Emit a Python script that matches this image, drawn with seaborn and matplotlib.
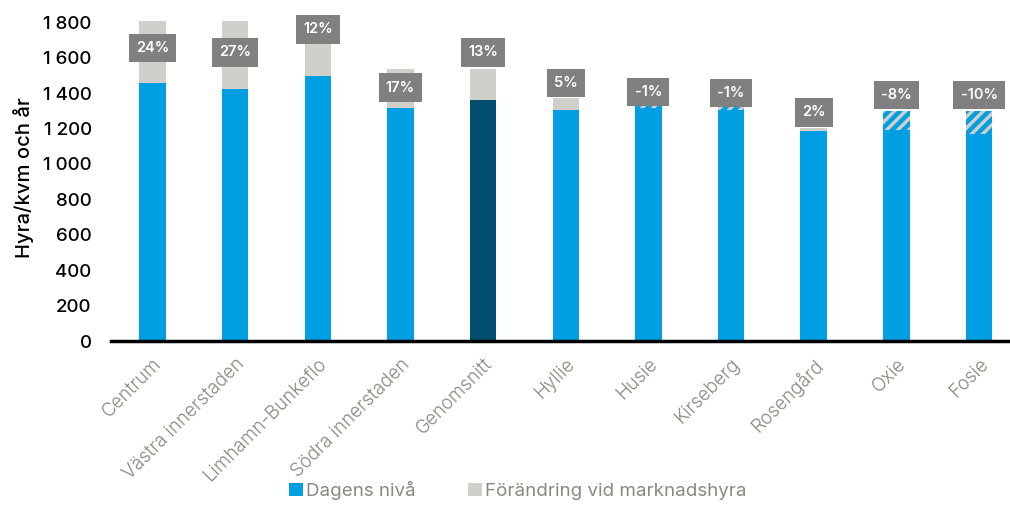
import numpy as np
import pandas as pd
import matplotlib
matplotlib.use("Agg")
import matplotlib.pyplot as plt
import seaborn as sns
from matplotlib.patches import Patch


# Data
# ----------------------------------
areas = ["Centrum", "Västra innerstaden", "Limhamn-Bunkeflo", "Södra innerstaden",
         "Genomsnitt", "Hyllie", "Husie", "Kirseberg", "Rosengård", "Oxie", "Fosie"]
current_rent = [1455, 1425, 1495, 1315, 1360, 1304, 1326, 1320, 1185, 1298, 1298]
market_rent = [1805, 1808, 1676, 1535, 1537, 1371, 1313, 1307, 1202, 1194, 1168]
change_labels = ["24%", "27%", "12%", "17%", "13%", "5%", "-1%", "-1%", "2%", "-8%", "-10%"]
y_ticks = [0, 200, 400, 600, 800, 1000, 1200, 1400, 1600, 1800]

# Where the grey percent boxes sit (layout, data units)
label_y = [1655, 1630, 1760, 1430, 1630, 1458, 1405, 1400, 1292, 1388, 1388]

BLUE = "#009fe3"
DARK = "#004f71"
GREY = "#d0cfca"
BOX = "#808080"
TEXT_GREY = "#8a897f"

sns.set_style("white")
plt.rcParams["font.family"] = ["Inter", "DejaVu Sans"]
plt.rcParams["hatch.linewidth"] = 3.2

df = pd.DataFrame({"area": areas, "current": current_rent, "market": market_rent})
df["upper"] = df[["current", "market"]].max(axis=1)
df["lower"] = df[["current", "market"]].min(axis=1)

fig = plt.figure(figsize=(10.1, 5.13), dpi=100)
ax = fig.add_axes([0.11, 0.335, 0.888, 0.639])

# upper layer: grey change (or hatched reduction when market < current)
sns.barplot(data=df, x="area", y="upper", color=GREY, width=0.32,
            saturation=1, ax=ax)
for patch, cur, mkt in zip(ax.patches, current_rent, market_rent):
    patch.set_linewidth(0)
    if mkt < cur:
        patch.set_hatch("///")
        patch.set_edgecolor(BLUE)

# lower layer: today's level
colors = [DARK if a == "Genomsnitt" else BLUE for a in areas]
n_before = len(ax.patches)
sns.barplot(data=df, x="area", y="lower", hue="area", palette=colors,
            width=0.32, saturation=1, legend=False, ax=ax)
for patch in ax.patches[n_before:]:
    patch.set_linewidth(0)

# percent boxes
for i, (txt, yy) in enumerate(zip(change_labels, label_y)):
    ax.text(i, yy, txt, ha="center", va="center", color="white",
            fontsize=10.5, fontweight="semibold", zorder=5,
            bbox=dict(boxstyle="square,pad=0.5", facecolor=BOX, edgecolor="none"))

ax.set_xlim(-0.5, 10.35)
ax.set_ylim(0, 1850)
ax.set_yticks(y_ticks)
ax.set_yticklabels([f"{v:,}".replace(",", " ") for v in y_ticks],
                   fontsize=13.5, color="black", fontweight="medium")
ax.tick_params(axis="y", length=0, pad=14)
ax.tick_params(axis="x", length=0, pad=10)
ax.set_xticks(range(len(areas)))
ax.set_xticklabels(areas, rotation=45, ha="right", rotation_mode="anchor",
                   fontsize=13.5, color=TEXT_GREY, fontweight=300)
ax.set_xlabel("")
ax.set_ylabel("Hyra/kvm och år", fontsize=14.5, color="black",
              fontweight="medium", labelpad=6)

for side in ["top", "right", "left"]:
    ax.spines[side].set_visible(False)
ax.spines["bottom"].set_color("black")
ax.spines["bottom"].set_linewidth(2.5)

handles = [Patch(facecolor=BLUE, edgecolor="none", label="Dagens nivå"),
           Patch(facecolor=GREY, edgecolor="none", label="Förändring vid marknadshyra")]
leg = fig.legend(handles=handles, loc="lower center", bbox_to_anchor=(0.513, -0.008),
                 ncol=2, frameon=False, fontsize=13.5, handlelength=0.7,
                 handleheight=0.7, handletextpad=0.2, columnspacing=2.8)
for t in leg.get_texts():
    t.set_color(TEXT_GREY)

fig.savefig("out.png", dpi=100)
